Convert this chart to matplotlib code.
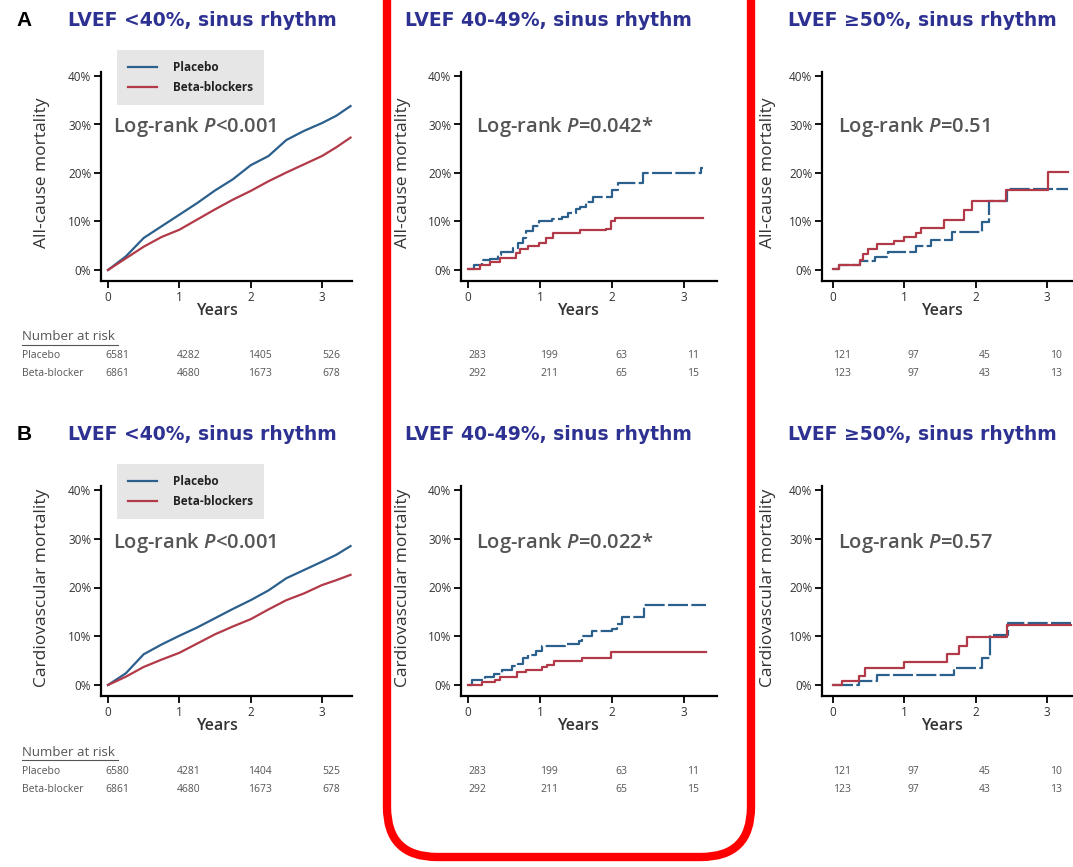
import matplotlib
matplotlib.use("Agg")
import matplotlib.pyplot as plt
import matplotlib.transforms as mtransforms
from matplotlib.patches import FancyBboxPatch
from matplotlib.lines import Line2D

plt.rcParams['font.family'] = ['Open Sans', 'DejaVu Sans']
plt.rcParams['mathtext.fontset'] = 'custom'
plt.rcParams['mathtext.rm'] = 'Open Sans:semibold'
plt.rcParams['mathtext.it'] = 'Open Sans:italic:semibold'

# -----------------------------
# Data
# -----------------------------
titles = ["LVEF <40%, sinus rhythm", "LVEF 40-49%, sinus rhythm", "LVEF \u226550%, sinus rhythm"]
ylabels = ["All-cause mortality", "Cardiovascular mortality"]
pvals = [["<0.001", "=0.042*", "=0.51"], ["<0.001", "=0.022*", "=0.57"]]
yticks = [0, 10, 20, 30, 40]
xticks = [0, 1, 2, 3]
series_names = ["Placebo", "Beta-blockers"]
risk_rows = ["Placebo", "Beta-blocker"]

# large cohort (LVEF <40%)
t_big = [0, 0.25, 0.5, 0.75, 1, 1.25, 1.5, 1.75, 2, 2.25, 2.5, 2.75, 3, 3.2, 3.4]
a_left_pla = [0, 2.8, 6.6, 9.0, 11.4, 13.8, 16.4, 18.7, 21.6, 23.5, 26.8, 28.7, 30.3, 31.8, 33.8]
a_left_bb = [0, 2.4, 4.8, 6.8, 8.3, 10.4, 12.5, 14.5, 16.3, 18.3, 20.1, 21.8, 23.5, 25.3, 27.3]
b_left_pla = [0, 2.4, 6.3, 8.3, 10.1, 11.8, 13.7, 15.6, 17.4, 19.4, 21.9, 23.6, 25.3, 26.7, 28.5]
b_left_bb = [0, 1.7, 3.7, 5.2, 6.6, 8.5, 10.4, 12.0, 13.5, 15.5, 17.4, 18.8, 20.5, 21.5, 22.6]

# LVEF 40-49%, all-cause
a_mid_pla_t = [0, 0.09, 0.2, 0.3, 0.42, 0.46, 0.62, 0.7, 0.76, 0.8, 0.9, 0.98, 1.16, 1.3, 1.39,
               1.5, 1.55, 1.64, 1.74, 2.0, 2.08, 2.43, 3.24, 3.26]
a_mid_pla = [0.3, 1.0, 2.0, 2.3, 3.0, 3.8, 4.5, 5.5, 6.5, 8.0, 9.0, 10.0, 10.5, 11.0, 11.7,
             12.5, 13.0, 14.0, 15.0, 16.5, 18.0, 20.0, 21.0, 21.0]
a_mid_bb_t = [0, 0.16, 0.3, 0.44, 0.67, 0.72, 0.83, 0.99, 1.09, 1.18, 1.55, 1.92, 1.99, 2.04, 3.26]
a_mid_bb = [0.3, 1.0, 1.6, 2.5, 3.5, 4.3, 5.0, 5.5, 6.5, 7.6, 8.3, 8.5, 10.0, 10.8, 10.8]

# LVEF >=50%, all-cause
a_right_pla_t = [0, 0.09, 0.38, 0.59, 0.77, 1.17, 1.38, 1.67, 2.09, 2.18, 2.44, 3.29]
a_right_pla = [0.3, 1.1, 1.9, 2.7, 3.7, 4.9, 6.1, 7.8, 9.9, 14.3, 16.8, 16.8]
a_right_bb_t = [0, 0.09, 0.38, 0.42, 0.49, 0.61, 0.85, 0.99, 1.17, 1.24, 1.55, 1.83, 1.95, 2.42, 3.02, 3.29]
a_right_bb = [0.3, 1.1, 2.0, 3.3, 4.4, 5.3, 6.0, 6.8, 7.6, 8.6, 10.3, 12.4, 14.3, 16.4, 20.3, 20.3]

# LVEF 40-49%, cardiovascular
b_mid_pla_t = [0, 0.06, 0.24, 0.36, 0.47, 0.61, 0.7, 0.77, 0.84, 0.94, 1.03, 1.35, 1.54, 1.58,
               1.72, 2.0, 2.07, 2.14, 2.44, 3.3]
b_mid_pla = [0, 1.0, 1.6, 2.2, 3.0, 3.8, 4.4, 5.5, 6.2, 7.0, 7.9, 8.4, 9.0, 10.0,
             11.1, 11.5, 12.5, 14.0, 16.4, 16.4]
b_mid_bb_t = [0, 0.19, 0.38, 0.45, 0.68, 0.8, 1.03, 1.1, 1.19, 1.58, 1.98, 3.3]
b_mid_bb = [0, 0.6, 1.1, 1.7, 2.6, 3.1, 3.6, 4.2, 4.9, 5.6, 6.8, 6.8]

# LVEF >=50%, cardiovascular
b_right_pla_t = [0, 0.37, 0.61, 1.69, 2.09, 2.2, 2.46, 3.34]
b_right_pla = [0, 0.8, 2.0, 3.5, 5.6, 10.3, 12.8, 12.8]
b_right_bb_t = [0, 0.12, 0.37, 0.45, 0.99, 1.6, 1.76, 1.88, 2.44, 3.34]
b_right_bb = [0, 0.8, 1.9, 3.5, 4.8, 6.4, 7.9, 9.9, 12.3, 12.3]

risk_left_a = [[6581, 4282, 1405, 526], [6861, 4680, 1673, 678]]
risk_left_b = [[6580, 4281, 1404, 525], [6861, 4680, 1673, 678]]
risk_mid = [[283, 199, 63, 11], [292, 211, 65, 15]]
risk_right = [[121, 97, 45, 10], [123, 97, 43, 13]]

# -----------------------------
# Styling / layout
# -----------------------------
W, H = 1073, 867
BLUE = "#2b5f8c"
RED = "#b23a48"
NAVY = "#2d3191"
GREY = "#555555"

fig = plt.figure(figsize=(W / 100, H / 100), dpi=100)
bg = fig.add_axes([0, 0, 1, 1])
bg.set_xlim(0, W)
bg.set_ylim(H, 0)
bg.axis("off")

# column geometry: (left spine px, x=0 px, x=3 px, right end px)
cols = [(101, 108, 322, 352), (461, 468, 684, 717), (822, 833, 1047, 1085)]
# row geometry: (0% px, 40% px, bottom spine px, top px)
rows = [(270, 76, 281, 72), (685, 490, 696, 486)]
title_x = [68, 405, 788]
title_y = [20, 435]
ylabel_x = [42, 403, 768]
logrank_x = [113, 476, 838]
logrank_y = [127, 543]
xlabel_y = [311, 726]
risk_y = [(356, 374), (772, 789)]
risk_head_y = [337, 752]

curves = [
    [(t_big, a_left_pla, t_big, a_left_bb),
     (a_mid_pla_t, a_mid_pla, a_mid_bb_t, a_mid_bb),
     (a_right_pla_t, a_right_pla, a_right_bb_t, a_right_bb)],
    [(t_big, b_left_pla, t_big, b_left_bb),
     (b_mid_pla_t, b_mid_pla, b_mid_bb_t, b_mid_bb),
     (b_right_pla_t, b_right_pla, b_right_bb_t, b_right_bb)],
]
risks = [[risk_left_a, risk_mid, risk_right], [risk_left_b, risk_mid, risk_right]]

for r in range(2):
    y0, y40, ybot, ytop = rows[r]
    pxpct = (y0 - y40) / 40.0
    for c in range(3):
        xl, x0, x3, xr = cols[c]
        pxyr = (x3 - x0) / 3.0
        ax = fig.add_axes([xl / W, 1 - ybot / H, (xr - xl) / W, (ybot - ytop) / H])
        ax.set_xlim((xl - x0) / pxyr, (xr - x0) / pxyr)
        ax.set_ylim((y0 - ybot) / pxpct, (y0 - ytop) / pxpct)
        ax.patch.set_alpha(0)
        for s in ["top", "right"]:
            ax.spines[s].set_visible(False)
        for s in ["left", "bottom"]:
            ax.spines[s].set_linewidth(1.6)
        ax.set_xticks(xticks)
        ax.set_xticklabels([str(v) for v in xticks])
        ax.set_yticks(yticks)
        ax.set_yticklabels(["%d%%" % v for v in yticks])
        ax.tick_params(direction="out", length=5, width=1.3, labelsize=8.5,
                       labelcolor="#333333", pad=2)

        tp, vp, tb, vb = curves[r][c]
        if c == 0:
            ax.plot(tp, vp, color=BLUE, lw=1.6, label=series_names[0])
            ax.plot(tb, vb, color=RED, lw=1.6, label=series_names[1])
        else:
            ax.plot(tp, vp, color=BLUE, lw=1.6, drawstyle="steps-post",
                    dashes=(9, 1.5))
            ax.plot(tb, vb, color=RED, lw=1.6, drawstyle="steps-post")

        # labels
        bg.text(title_x[c], title_y[r], titles[c], color=NAVY, fontsize=13.5,
                fontweight="bold", family="DejaVu Sans", va="center", ha="left")
        bg.text(ylabel_x[c], (y0 + y40) / 2 - 0, ylabels[r], rotation=90,
                fontsize=12.5, color="#333333", va="center", ha="center")
        bg.text(logrank_x[c], logrank_y[r], "Log-rank $P$" + pvals[r][c],
                fontsize=14.5, fontweight="semibold", color=GREY,
                va="center", ha="left")
        bg.text((x0 + x3) / 2 + 2, xlabel_y[r], "Years", fontsize=11.5,
                fontweight="semibold", color="#333333", va="center", ha="center")

        # number at risk
        tr = mtransforms.blended_transform_factory(ax.transData, bg.transData)
        off = mtransforms.offset_copy(tr, fig=fig, x=9, y=0, units="dots")
        for k in range(2):
            for j, n in enumerate(risks[r][c][k]):
                ax.text(xticks[j], risk_y[r][k], str(n), transform=off,
                        fontsize=7.5, color=GREY, ha="center", va="center",
                        clip_on=False)

    # legend in left panel
    leg_ax = fig.axes[-3]
    leg = leg_ax.legend(loc="upper left", bbox_to_anchor=(117 / W, 1 - (rows[r][3] - 22) / H),
                        bbox_transform=fig.transFigure, frameon=True, fancybox=False,
                        facecolor="#e6e6e6", edgecolor="none", framealpha=1,
                        prop={"size": 8.5, "weight": "bold"}, handlelength=2.4,
                        handletextpad=1.4, borderpad=0.95, labelspacing=0.55,
                        borderaxespad=0)
    for txt in leg.get_texts():
        txt.set_color("#222222")

    # risk table header
    bg.text(22, risk_head_y[r], "Number at risk", fontsize=9.5, color=GREY,
            va="center", ha="left")
    bg.add_line(Line2D([22, 118], [risk_head_y[r] + 8, risk_head_y[r] + 8],
                       color=GREY, lw=0.8))
    for k in range(2):
        bg.text(22, risk_y[r][k], risk_rows[k], fontsize=7.5, color=GREY,
                va="center", ha="left")

bg.text(24, 20, "A", fontsize=15, fontweight="bold", family="Liberation Sans",
        va="center", ha="center")
bg.text(24, 435, "B", fontsize=15, fontweight="bold", family="Liberation Sans",
        va="center", ha="center")

# highlight box around middle column
box = FancyBboxPatch((387, -60), 751 - 387, 857 + 60, boxstyle="round,pad=0,rounding_size=50",
                     fill=False, edgecolor="#ff0000", lw=6, zorder=10)
bg.add_patch(box)

fig.savefig("out.png", dpi=100)
